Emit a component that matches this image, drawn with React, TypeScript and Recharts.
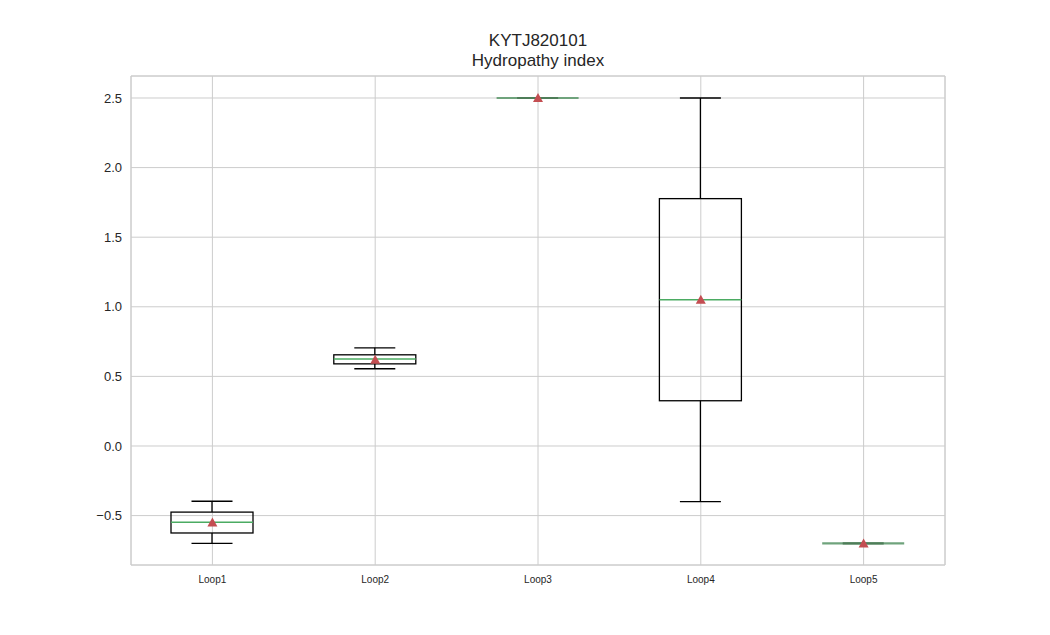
import {
  ComposedChart,
  Bar,
  Scatter,
  XAxis,
  YAxis,
  CartesianGrid,
  ReferenceArea,
} from "recharts";

const categories = ["Loop1", "Loop2", "Loop3", "Loop4", "Loop5"];
const whiskerLow = [-0.7, 0.555, 2.5, -0.4, -0.7];
const q1 = [-0.625, 0.59, 2.5, 0.325, -0.7];
const median = [-0.548, 0.625, 2.5, 1.05, -0.7];
const q3 = [-0.475, 0.655, 2.5, 1.777, -0.7];
const whiskerHigh = [-0.397, 0.705, 2.5, 2.5, -0.7];
const means = [-0.55, 0.62, 2.5, 1.05, -0.7];
const yTicks = [-0.5, 0, 0.5, 1, 1.5, 2, 2.5];

const data = categories.map((name, i) => ({
  name,
  range: [whiskerLow[i], whiskerHigh[i]],
  q1: q1[i],
  median: median[i],
  q3: q3[i],
  low: whiskerLow[i],
  high: whiskerHigh[i],
  mean: means[i],
}));

const FONT = "'Liberation Sans', Arial, sans-serif";
const TEXT = "#262626";

// draws the whole box from the bar that spans the whiskers
function BoxShape(props: any) {
  const { x, y, width, height, payload } = props;
  const { low, high } = payload;
  const top = Math.min(y, y + height);
  const h = Math.abs(height);
  const py = (v: number) => (high === low ? top : top + ((high - v) / (high - low)) * h);
  const cx = x + width / 2;
  const capW = width / 2;
  const yQ1 = py(payload.q1);
  const yQ3 = py(payload.q3);
  const yMed = py(payload.median);
  const yLow = py(low);
  const yHigh = py(high);

  if (high === low) {
    return (
      <g>
        <line x1={x} x2={x + width} y1={yMed} y2={yMed} stroke="#6fa37c" strokeWidth={2.2} />
        <line x1={cx - capW / 2} x2={cx + capW / 2} y1={yMed} y2={yMed} stroke="#4e7d58" strokeWidth={2.2} />
      </g>
    );
  }

  return (
    <g>
      <line x1={cx} x2={cx} y1={yHigh} y2={yQ3} stroke="#000" strokeWidth={1.3} />
      <line x1={cx} x2={cx} y1={yQ1} y2={yLow} stroke="#000" strokeWidth={1.3} />
      <line x1={cx - capW / 2} x2={cx + capW / 2} y1={yHigh} y2={yHigh} stroke="#000" strokeWidth={1.3} />
      <line x1={cx - capW / 2} x2={cx + capW / 2} y1={yLow} y2={yLow} stroke="#000" strokeWidth={1.3} />
      <rect x={x} y={yQ3} width={width} height={yQ1 - yQ3} fill="none" stroke="#000" strokeWidth={1.3} />
      <line x1={x} x2={x + width} y1={yMed} y2={yMed} stroke="#4bab62" strokeWidth={1.5} />
    </g>
  );
}

function MeanMarker(props: any) {
  const { cx, cy } = props;
  const s = 5;
  return (
    <polygon
      points={`${cx},${cy - s} ${cx - s},${cy + s * 0.8} ${cx + s},${cy + s * 0.8}`}
      fill="#C44E52"
    />
  );
}

export default function App() {
  return (
    <div style={{ position: "absolute", left: 0, top: 0, width: 1050, height: 635, background: "#fff" }}>
      <div
        style={{
          position: "absolute",
          left: 338,
          width: 400,
          top: 31,
          textAlign: "center",
          fontFamily: FONT,
          fontSize: 17,
          lineHeight: "20px",
          color: TEXT,
        }}
      >
        <div>KYTJ820101</div>
        <div>Hydropathy index</div>
      </div>
      <ComposedChart
        width={1050}
        height={635}
        data={data}
        margin={{ top: 76, right: 105, bottom: 0, left: 0 }}
        barCategoryGap={0}
      >
        <CartesianGrid stroke="#cccccc" strokeWidth={1} />
        <XAxis
          dataKey="name"
          height={70}
          axisLine={false}
          tickLine={false}
          tickSize={0}
          tickMargin={11}
          tick={{ fill: TEXT, fontSize: 10, fontFamily: FONT }}
        />
        <YAxis
          type="number"
          width={131}
          domain={[-0.855, 2.658]}
          allowDataOverflow
          ticks={yTicks}
          tickFormatter={(v: number) => v.toFixed(1).replace("-", "\u2212")}
          axisLine={false}
          tickLine={false}
          tickSize={0}
          tickMargin={9}
          tick={{ fill: TEXT, fontSize: 13, fontFamily: FONT }}
        />
        <ReferenceArea y1={-0.855} y2={2.658} fill="none" stroke="#cccccc" strokeWidth={1} ifOverflow="visible" />
        <Bar dataKey="range" barSize={82} shape={BoxShape} isAnimationActive={false} />
        <Scatter dataKey="mean" shape={MeanMarker} isAnimationActive={false} />
      </ComposedChart>
    </div>
  );
}
